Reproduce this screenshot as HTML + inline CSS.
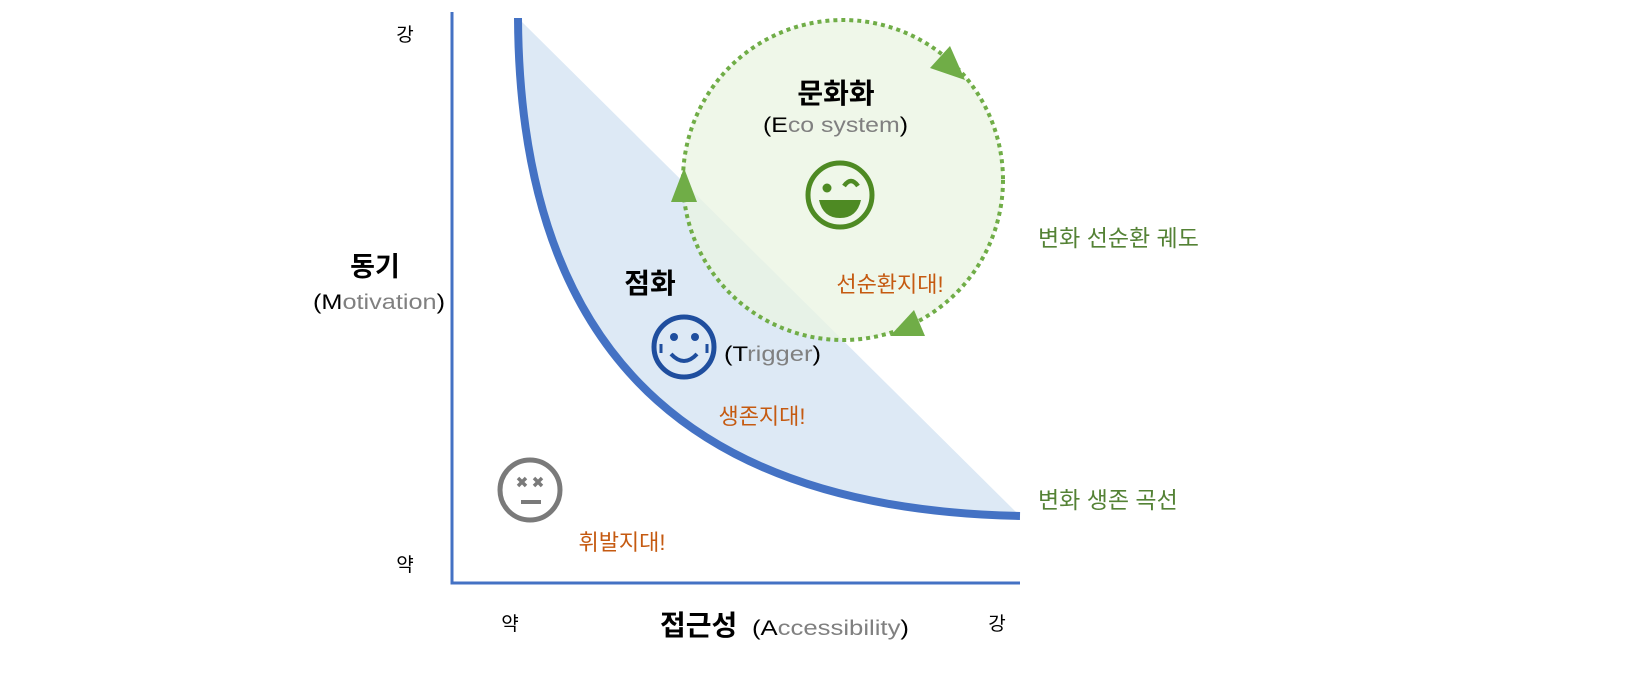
<!DOCTYPE html>
<html><head><meta charset="utf-8"><style>
html,body{margin:0;padding:0;background:#fff;}
svg text{font-family:"Liberation Sans","Noto Sans CJK KR",sans-serif;}
</style></head><body>
<svg width="1625" height="686" viewBox="0 0 1625 686" xmlns="http://www.w3.org/2000/svg">
<path d="M518,18 C520,380 720,510 1020,516 Z" fill="#dde9f5"/>
<circle cx="843" cy="180" r="160" fill="#e9f4e1" fill-opacity="0.75"/>
<path d="M452,12 L452,583 L1020,583" fill="none" stroke="#4472c4" stroke-width="3"/>
<path d="M518,18 C520,380 720,510 1020,516" fill="none" stroke="#4472c4" stroke-width="8"/>
<circle cx="843" cy="180" r="160" fill="none" stroke="#70ad47" stroke-width="4" stroke-dasharray="4 4"/>
<polygon points="684,168 671,202 697,202" fill="#70ad47"/>
<polygon points="965,80 930,68 950,46" fill="#70ad47"/>
<polygon points="890,336 914,310 925,336" fill="#70ad47"/>
<g font-size="19" fill="#000">
<text x="405" y="41" text-anchor="middle">강</text>
<text x="405" y="571" text-anchor="middle">약</text>
<text x="510" y="630" text-anchor="middle">약</text>
<text x="997" y="630" text-anchor="middle">강</text>
</g>
<text x="375" y="276" text-anchor="middle" font-size="27" font-weight="bold">동기</text>
<text x="313" y="309" font-size="21" fill="#808080" textLength="132" lengthAdjust="spacingAndGlyphs"><tspan fill="#000">(M</tspan>otivation<tspan fill="#000">)</tspan></text>
<text x="660" y="635" font-size="28" font-weight="bold">접근성</text>
<text x="752" y="635" font-size="21" fill="#808080" textLength="157" lengthAdjust="spacingAndGlyphs"><tspan fill="#000">(A</tspan>ccessibility<tspan fill="#000">)</tspan></text>
<text x="836" y="103" text-anchor="middle" font-size="28" font-weight="bold">문화화</text>
<text x="763" y="132" font-size="21" fill="#808080" textLength="145" lengthAdjust="spacingAndGlyphs"><tspan fill="#000">(E</tspan>co system<tspan fill="#000">)</tspan></text>
<text x="650" y="293" text-anchor="middle" font-size="28" font-weight="bold">점화</text>
<text x="724" y="361" font-size="21" fill="#808080" textLength="97" lengthAdjust="spacingAndGlyphs"><tspan fill="#000">(T</tspan>rigger<tspan fill="#000">)</tspan></text>
<g font-size="22" fill="#c55a11">
<text x="762" y="424" text-anchor="middle">생존지대!</text>
<text x="890" y="292" text-anchor="middle">선순환지대!</text>
<text x="622" y="550" text-anchor="middle">휘발지대!</text>
</g>
<g font-size="23" fill="#548235">
<text x="1038" y="246">변화 선순환 궤도</text>
<text x="1038" y="508">변화 생존 곡선</text>
</g>
<circle cx="840" cy="195" r="32" fill="none" stroke="#4e8a23" stroke-width="5"/>
<path d="M844,186 Q851,176 858,186" fill="none" stroke="#4e8a23" stroke-width="4.5"/>
<circle cx="827" cy="188" r="4.5" fill="#4e8a23"/>
<path d="M819,200 L861,200 Q857,218 840,218 Q823,218 819,200 Z" fill="#4e8a23"/>
<g stroke="#1f4e9e" fill="none" stroke-width="5">
<circle cx="684" cy="347" r="30"/>
<path d="M671,354 Q684,368 697,354" stroke-width="4"/>
<path d="M661,344 L661,353" stroke-width="3"/>
<path d="M707,344 L707,353" stroke-width="3"/>
</g>
<circle cx="674" cy="337" r="4" fill="#1f4e9e"/>
<circle cx="695" cy="337" r="4" fill="#1f4e9e"/>
<circle cx="530" cy="490" r="30" fill="none" stroke="#7a7a7a" stroke-width="5"/>
<g stroke="#7a7a7a" stroke-width="3.5">
<path d="M518,478 L526,486 M526,478 L518,486"/>
<path d="M534,478 L542,486 M542,478 L534,486"/>
</g>
<rect x="521" y="500" width="20" height="4" fill="#7a7a7a"/>
</svg>
</body></html>
